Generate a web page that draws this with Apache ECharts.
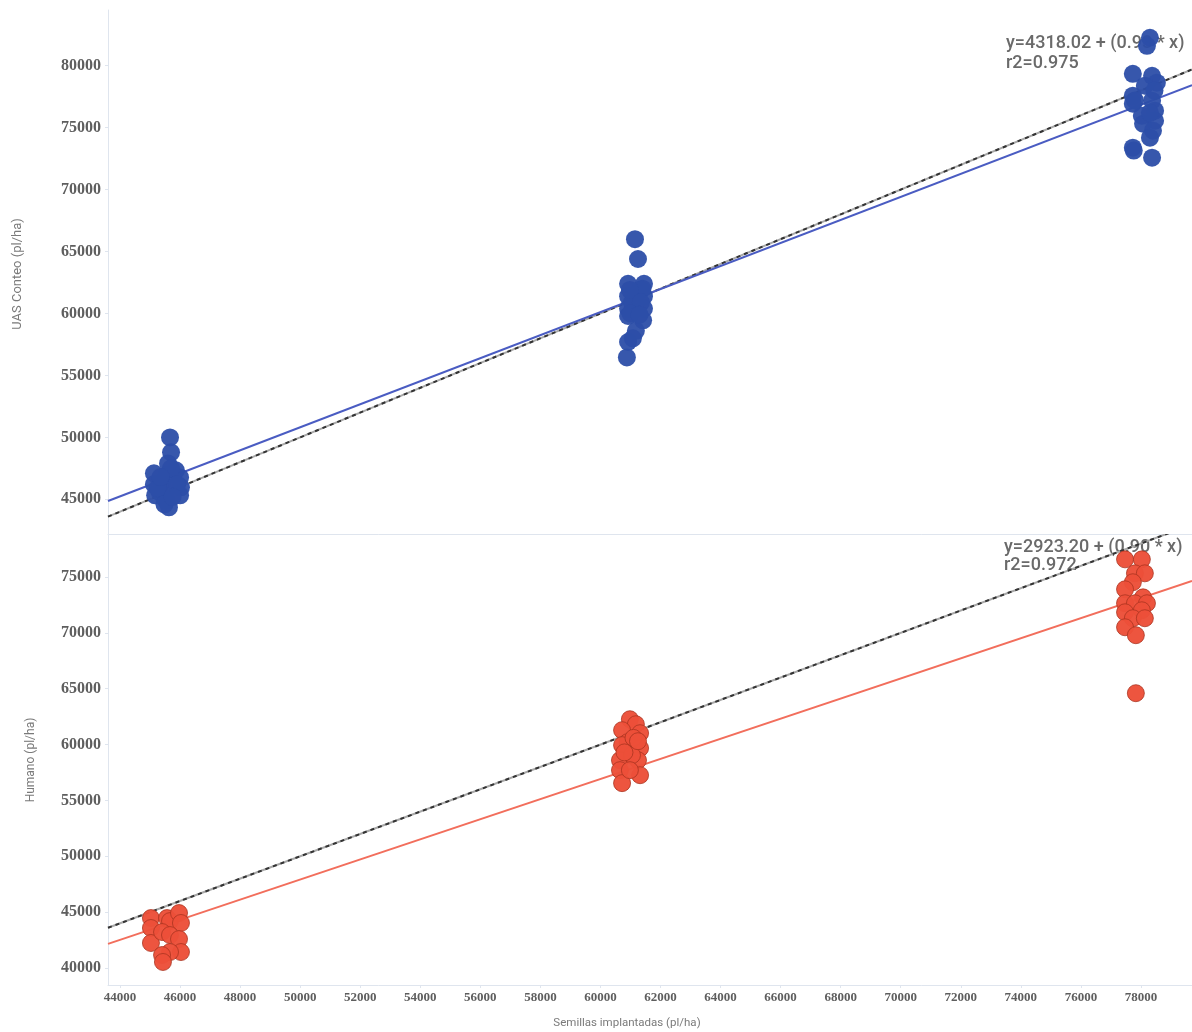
<!DOCTYPE html>
<html>
<head>
<meta charset="utf-8">
<script src="https://cdn.jsdelivr.net/npm/echarts@6/dist/echarts.min.js"></script>
<style>
  html, body { margin: 0; padding: 0; background: #fff; }
  #chart { width: 1192px; height: 1032px; }
</style>
</head>
<body>
<div id="chart"></div>
<script>
// Seeds planted (pl/ha) vs. plant counts, two methods
const xTicks = [44000, 46000, 48000, 50000, 52000, 54000, 56000, 58000, 60000,
  62000, 64000, 66000, 68000, 70000, 72000, 74000, 76000, 78000];
const yTicksUas = [45000, 50000, 55000, 60000, 65000, 70000, 75000, 80000];
const yTicksHum = [40000, 45000, 50000, 55000, 60000, 65000, 70000, 75000];

// UAS counting: [seeds, counted]
const uasPoints = [
  [45665, 50000], [45700, 48790], [45600, 47900], [45130, 47100], [45130, 46210],
  [45170, 45320], [45560, 46940], [45560, 45890], [45530, 44920], [45630, 44350],
  [46000, 46770], [46030, 45970], [46000, 45320], [45400, 46370], [45860, 47340],
  [45330, 45560], [45700, 47500], [45250, 45900], [45900, 46200], [45480, 44600],
  [45750, 45200], [45350, 46800],
  [61150, 66000], [61250, 64400], [60920, 62400], [61450, 62400], [60920, 61400],
  [61450, 61400], [60920, 60400], [61450, 60400], [60920, 59800], [61420, 59450],
  [61180, 58600], [60920, 57700], [61080, 58000], [60880, 56450], [61320, 61900],
  [61050, 60900], [61400, 62000], [60980, 61900], [61350, 60900], [61000, 60000],
  [61300, 59900],
  [78300, 82260], [78200, 81610], [77730, 79350], [78370, 79190], [78530, 78630],
  [78130, 78390], [77730, 77580], [77730, 76940], [78370, 77180], [78470, 76370],
  [78070, 75320], [78470, 75560], [78400, 74760], [77730, 73390], [78370, 72580],
  [78030, 75970], [78300, 74190], [78300, 76200], [77800, 77200], [78450, 78000],
  [77760, 73150]
];

// Manual (human) counting: [seeds, counted]
const humanPoints = [
  [45030, 44470], [45030, 43580], [45030, 42240], [45565, 44470], [45665, 44200],
  [45965, 44920], [46030, 44030], [45400, 43220], [45665, 42950], [45965, 42590],
  [46030, 41430], [45665, 41430], [45400, 41160], [45430, 40540],
  [60980, 62270], [61180, 61820], [60720, 61290], [61320, 61020], [60900, 60210],
  [61320, 59680], [60720, 59950], [60650, 58600], [61250, 58600], [61050, 59050],
  [60650, 57710], [61320, 57260], [60720, 56550], [60980, 57710], [61100, 60600],
  [60800, 59300], [61250, 60300],
  [77470, 76580], [78030, 76580], [77800, 75330], [78130, 75330], [77730, 74530],
  [77470, 73900], [78070, 73180], [77470, 72650], [77800, 72650], [78200, 72650],
  [77470, 71840], [78030, 72020], [77730, 71310], [78130, 71310], [77470, 70500],
  [77830, 69790], [77830, 64600]
];

// Fitted regressions (intercept, slope) and their labels
const uasFit = { a: 4318.02, b: 0.93, r2: 0.975 };
const humFit = { a: 2923.20, b: 0.90, r2: 0.972 };

const xMin = 43600, xMax = 79700;
const fitLine = f => [[xMin, f.a + f.b * xMin], [xMax, f.a + f.b * xMax]];
const identity = [[xMin, xMin], [xMax, xMax]];

const axisGray = '#dfe5ee';
const labelFont = { fontFamily: 'Liberation Serif', fontWeight: 'bold', color: '#5e5e5e',
  formatter: v => String(v) };

function yAxis(gridIndex, min, max, ticks) {
  return {
    type: 'value', gridIndex, min, max,
    splitLine: { show: false },
    axisLine: { show: true, lineStyle: { color: axisGray } },
    axisTick: { show: true, length: 3, lineStyle: { color: axisGray }, customValues: ticks },
    axisLabel: Object.assign({ fontSize: 16, margin: 7, customValues: ticks }, labelFont)
  };
}

function xAxis(gridIndex, showLabels) {
  return {
    type: 'value', gridIndex, min: xMin, max: xMax,
    splitLine: { show: false },
    axisLine: { show: true, onZero: false, lineStyle: { color: axisGray } },
    axisTick: { show: showLabels, length: 3, lineStyle: { color: axisGray }, customValues: xTicks },
    axisLabel: Object.assign({ show: showLabels, fontSize: 13, margin: 6, customValues: xTicks }, labelFont)
  };
}

function dashedIdentity(xi, yi) {
  return [
    { type: 'line', xAxisIndex: xi, yAxisIndex: yi, data: identity, symbol: 'none', z: 3,
      lineStyle: { color: '#a8a8a8', width: 2 } },
    { type: 'line', xAxisIndex: xi, yAxisIndex: yi, data: identity, symbol: 'none', z: 3,
      lineStyle: { color: '#333', width: 2, type: [4, 4] } }
  ];
}

const eqFont = { fontFamily: 'Roboto', fontSize: 18, fontWeight: 500, fill: '#6a6a6a' };
const eqText = f => 'y=' + f.a.toFixed(2) + ' + (' + f.b.toFixed(2) + ' * x)\nr2=' + f.r2.toFixed(3);

const chart = echarts.init(document.getElementById('chart'), null, { renderer: 'canvas' });
chart.setOption({
  animation: false,
  backgroundColor: '#fff',
  grid: [
    { left: 108, right: 0, top: 10, height: 524 },
    { left: 108, right: 0, top: 535, bottom: 47 }
  ],
  xAxis: [xAxis(0, false), xAxis(1, true)],
  yAxis: [yAxis(0, 42200, 84500, yTicksUas), yAxis(1, 38480, 78760, yTicksHum)],
  graphic: [
    { type: 'text', x: 18, y: 274, rotation: Math.PI / 2, z: 1,
      style: { text: 'UAS Conteo (pl/ha)', fontFamily: 'Roboto', fontSize: 13, fill: '#7a7a7a',
        textAlign: 'center', textVerticalAlign: 'middle' } },
    { type: 'text', x: 31, y: 760, rotation: Math.PI / 2, z: 1,
      style: { text: 'Humano (pl/ha)', fontFamily: 'Roboto', fontSize: 12, fill: '#7a7a7a',
        textAlign: 'center', textVerticalAlign: 'middle' } },
    { type: 'text', x: 627, y: 1023, z: 1,
      style: { text: 'Semillas implantadas (pl/ha)', fontFamily: 'Roboto', fontSize: 11.5, fill: '#7a7a7a',
        textAlign: 'center', textVerticalAlign: 'middle' } },
    { type: 'text', x: 1006, y: 33, z: 1,
      style: Object.assign({ text: eqText(uasFit), lineHeight: 20 }, eqFont) },
    { type: 'text', x: 1004, y: 538, z: 1,
      style: Object.assign({ text: eqText(humFit), lineHeight: 18 }, eqFont) }
  ],
  series: [
    ...dashedIdentity(0, 0),
    { type: 'line', xAxisIndex: 0, yAxisIndex: 0, data: fitLine(uasFit), symbol: 'none', z: 3,
      lineStyle: { color: '#4a5cc2', width: 2 } },
    { type: 'scatter', xAxisIndex: 0, yAxisIndex: 0, data: uasPoints, symbolSize: 18, z: 4,
      itemStyle: { color: '#2c4ea8', opacity: 0.95 } },
    ...dashedIdentity(1, 1),
    { type: 'line', xAxisIndex: 1, yAxisIndex: 1, data: fitLine(humFit), symbol: 'none', z: 3,
      lineStyle: { color: '#f26e5c', width: 2 } },
    { type: 'scatter', xAxisIndex: 1, yAxisIndex: 1, data: humanPoints, symbolSize: 17, z: 4,
      itemStyle: { color: '#ec5039', borderColor: '#a8331f', borderWidth: 0.8, opacity: 0.97 } }
  ]
});
</script>
</body>
</html>
